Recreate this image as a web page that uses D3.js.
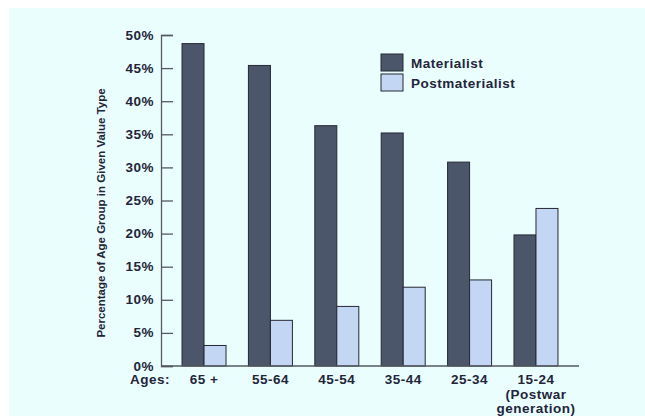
<!DOCTYPE html>
<html>
<head>
<meta charset="utf-8">
<script src="https://cdn.jsdelivr.net/npm/d3@7"></script>
<style>
  html, body { margin: 0; padding: 0; background: #ffffff; }
  svg { display: block; }
  text { font-family: "Liberation Sans", Arial, sans-serif; font-weight: bold; fill: #23253a; }
</style>
</head>
<body>
<svg id="chart" width="645" height="416"></svg>
<script>
// Age groups and share of each value type (percent)
const ageGroups = ["65 +", "55-64", "45-54", "35-44", "25-34", "15-24"];
const ageSubLabels = [[], [], [], [], [], ["(Postwar", "generation)"]];
const materialist = [48.7, 45.4, 36.3, 35.2, 30.8, 19.8];
const postmaterialist = [3.1, 6.9, 9.0, 11.9, 13.0, 23.8];
const seriesNames = ["Materialist", "Postmaterialist"];
const seriesColors = ["#4b566b", "#c3d7f4"];
const yTicks = [0, 5, 10, 15, 20, 25, 30, 35, 40, 45, 50];

const svg = d3.select("#chart");
const labelFont = "13.5px";
const labelSpacing = "0.5px";

// panel background
svg.append("rect").attr("x", 9).attr("y", 8).attr("width", 636).attr("height", 408).attr("fill", "#ebfefe");

const plot = { left: 161, right: 579, top: 35, bottom: 366 };

const x = d3.scalePoint().domain(ageGroups).range([plot.left, plot.right]).padding(0.648);
const y = d3.scaleLinear().domain([0, 50]).range([plot.bottom, plot.top]);
const barW = 22;

const series = [materialist, postmaterialist];
series.forEach((vals, s) => {
  svg.append("g").selectAll("rect").data(vals).join("rect")
    .attr("x", (d, i) => x(ageGroups[i]) + (s === 0 ? -barW : 0))
    .attr("y", d => y(d))
    .attr("width", barW)
    .attr("height", d => y(0) - y(d))
    .attr("fill", seriesColors[s])
    .attr("stroke", "#262833")
    .attr("stroke-width", 1);
});

// y axis with inward ticks
const yAxis = d3.axisRight(y).tickValues(yTicks).tickSize(12).tickFormat("");
const gy = svg.append("g").attr("transform", `translate(${plot.left},0)`).call(yAxis);
gy.select(".domain").attr("stroke", "#555a60").attr("stroke-width", 1.3);
gy.selectAll(".tick line").attr("stroke", "#555a60").attr("stroke-width", 1.3);

svg.append("g").selectAll("text").data(yTicks).join("text")
  .attr("x", 154).attr("y", d => y(d) + 4.5)
  .attr("text-anchor", "end")
  .style("font-size", labelFont).style("letter-spacing", labelSpacing)
  .text(d => d + "%");

// baseline
svg.append("line")
  .attr("x1", plot.left).attr("x2", plot.right)
  .attr("y1", y(0)).attr("y2", y(0))
  .attr("stroke", "#555a60").attr("stroke-width", 1.3);

// category labels
svg.append("text").attr("x", 130).attr("y", 384)
  .style("font-size", labelFont).style("letter-spacing", labelSpacing).text("Ages:");
const cat = svg.append("g").selectAll("text").data(ageGroups).join("text")
  .attr("x", d => x(d)).attr("y", 384)
  .attr("text-anchor", "middle")
  .style("font-size", labelFont).style("letter-spacing", labelSpacing);
cat.append("tspan").text(d => d);
cat.each(function(d, i) {
  ageSubLabels[i].forEach(line => {
    d3.select(this).append("tspan").attr("x", x(d)).attr("dy", 14.5).text(line);
  });
});

// y title
svg.append("text")
  .attr("transform", "translate(105,213) rotate(-90)")
  .attr("text-anchor", "middle")
  .style("font-size", "11.5px")
  .text("Percentage of Age Group in Given Value Type");

// legend
const legend = svg.append("g").selectAll("g").data(seriesNames).join("g")
  .attr("transform", (d, i) => `translate(381,${54 + i * 20})`);
legend.append("rect").attr("width", 22).attr("height", 17)
  .attr("fill", (d, i) => seriesColors[i]).attr("stroke", "#262833").attr("stroke-width", 1);
legend.append("text").attr("x", 30).attr("y", 13.5)
  .style("font-size", labelFont).style("letter-spacing", labelSpacing).text(d => d);
</script>
</body>
</html>
